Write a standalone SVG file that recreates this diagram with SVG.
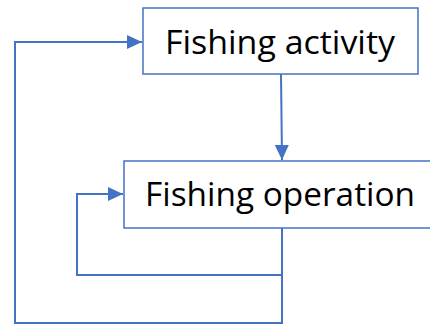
<svg xmlns="http://www.w3.org/2000/svg" width="430" height="325" viewBox="0 0 430 325">
<style>
.box{fill:#fff;stroke:#4472C4;stroke-width:1.5}
.lbl{font-family:"Open Sans","Noto Sans",sans-serif;font-size:32px;fill:#000}
.con{fill:none;stroke:#4472C4;stroke-width:2}
</style>
<defs>
<marker id="ah" markerUnits="userSpaceOnUse" markerWidth="16" markerHeight="14" refX="15" refY="7" orient="auto">
<path d="M0,0 L15,7 L0,14 Z" fill="#4472C4"/>
</marker>
</defs>
<rect width="430" height="325" fill="#fff"/>
<g id="fishing-activity">
<rect class="box" x="143" y="8" width="275" height="66"/>
<text class="lbl" x="165" y="54" textLength="230" lengthAdjust="spacingAndGlyphs">Fishing activity</text>
</g>
<g id="fishing-operation">
<rect class="box" x="124" y="161" width="312" height="67"/>
<text class="lbl" x="145" y="206" textLength="270" lengthAdjust="spacingAndGlyphs">Fishing operation</text>
</g>
<g id="connectors">
<path class="con" d="M281,74 L282,160" marker-end="url(#ah)"/>
<path class="con" d="M282,228 L282,275 L77,275 L77,194 L123,194" marker-end="url(#ah)"/>
<path class="con" d="M282,275 L282,323 L15,323 L15,42 L142,42" marker-end="url(#ah)"/>
</g>
</svg>
